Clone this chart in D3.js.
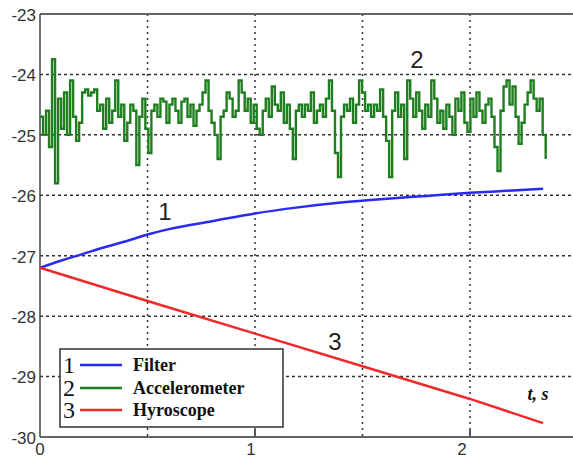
<!DOCTYPE html>
<html>
<head>
<meta charset="utf-8">
<script src="https://cdn.jsdelivr.net/npm/d3@7"></script>
<style>
  body { margin: 0; background: #fff; }
  svg { display: block; }
</style>
</head>
<body>
<div id="chart"></div>
<script>
// Chart data
const xTicks = [0, 1, 2];
const xGrid = [0.5, 1, 1.5, 2];
const yTicks = [-30, -29, -28, -27, -26, -25, -24, -23];

// 1 - Filter
const filterT = [0, 0.1, 0.2, 0.3, 0.4, 0.5, 0.6, 0.8, 1.0, 1.2, 1.4, 1.6, 1.8, 2.0, 2.2, 2.34];
const filterV = [-27.2, -27.08, -26.97, -26.86, -26.76, -26.65, -26.56, -26.43, -26.3, -26.2, -26.12, -26.06, -26.01, -25.96, -25.92, -25.89];

// 3 - Hyroscope
const gyroT = [0, 0.5, 1.0, 1.5, 2.0, 2.34];
const gyroV = [-27.2, -27.75, -28.29, -28.83, -29.37, -29.77];

// 2 - Accelerometer (sampled every accelStep seconds)
const accelStep = 0.014;
const accelV = [
  -24.7, -25.0, -24.6, -25.2, -23.75, -25.8, -24.4, -24.9, -24.3, -25.0,
  -24.1, -24.7, -25.1, -24.8, -24.3, -24.25, -24.35, -24.3, -24.25, -24.6,
  -24.5, -24.9, -24.4, -24.8, -24.6, -24.1, -24.7, -24.5, -25.1, -24.8,
  -24.5, -24.6, -25.5, -24.7, -24.4, -24.9, -25.3, -24.6, -24.5, -24.7,
  -24.4, -24.45, -24.8, -24.5, -24.4, -24.6, -24.8, -24.45, -24.4, -24.7,
  -24.5, -24.85, -24.6, -24.5, -24.3, -24.1, -24.6, -24.8, -25.0, -25.4,
  -24.7, -24.6, -24.3, -24.4, -24.7, -24.6, -24.1, -24.3, -24.6, -24.4,
  -24.8, -24.5, -24.9, -25.0, -24.6, -24.4, -24.7, -24.2, -24.5, -24.6,
  -24.3, -24.8, -24.5, -24.9, -25.4, -24.6, -24.5, -24.7, -24.5, -24.6,
  -24.3, -24.8, -24.6, -24.5, -24.7, -24.4, -24.1, -24.6, -25.3, -25.7,
  -24.7, -24.5, -24.6, -24.4, -24.8, -24.5, -24.1, -24.3, -24.6, -24.5,
  -24.7, -24.5, -24.6, -24.25, -24.7, -25.1, -25.7, -24.6, -24.3, -24.7,
  -24.5, -25.4, -24.1, -24.4, -24.7, -24.3, -24.6, -24.9, -24.5, -24.7,
  -24.1, -24.4, -24.8, -24.6, -24.9, -24.5, -24.7, -25.0, -24.4, -24.6,
  -24.3, -24.8, -24.95, -24.4, -24.7, -24.3, -24.6, -24.8, -24.5, -24.4,
  -24.7, -25.2, -25.6, -24.6, -24.2, -24.1, -24.5, -24.2, -24.7, -25.15,
  -24.8, -24.5, -24.3, -24.1, -24.4, -24.6, -24.4, -25.0, -25.4
];

const legendNames = ["Filter", "Accelerometer", "Hyroscope"];
const legendColors = ["#2a2af0", "#1f7f1f", "#f02a2a"];

const width = 573, height = 458;
const plotLeft = 40, plotTop = 14, plotBottom = 437, plotRight = 573;

const svg = d3.select("#chart").append("svg")
  .attr("width", width)
  .attr("height", height);

const x = d3.scaleLinear().domain([0, 2.48]).range([plotLeft, plotLeft + 2.48 * 215]);
const y = d3.scaleLinear().domain([-30, -23]).range([plotBottom, plotTop]);

// grid
const grid = svg.append("g")
  .attr("stroke", "#333")
  .attr("stroke-width", 1.5)
  .attr("stroke-dasharray", "3,3");

grid.selectAll(".hg")
  .data(yTicks.filter(d => d > -30 && d < -23))
  .enter().append("line")
  .attr("x1", plotLeft).attr("x2", plotRight)
  .attr("y1", d => y(d)).attr("y2", d => y(d));

grid.selectAll(".vg")
  .data(xGrid)
  .enter().append("line")
  .attr("x1", d => x(d)).attr("x2", d => x(d))
  .attr("y1", plotTop).attr("y2", plotBottom)
  .attr("stroke-dasharray", "2,4");

// frame
svg.append("line").attr("x1", plotLeft).attr("x2", plotRight).attr("y1", plotTop).attr("y2", plotTop)
  .attr("stroke", "#666").attr("stroke-width", 2);
svg.append("line").attr("x1", plotLeft).attr("x2", plotRight).attr("y1", plotBottom).attr("y2", plotBottom)
  .attr("stroke", "#666").attr("stroke-width", 2);
svg.append("line").attr("x1", plotLeft).attr("x2", plotLeft).attr("y1", plotTop).attr("y2", plotBottom)
  .attr("stroke", "#444").attr("stroke-width", 1.5);

// small inner ticks on the bottom axis
svg.selectAll(".xt")
  .data(xTicks.filter(d => d > 0))
  .enter().append("line")
  .attr("x1", d => x(d)).attr("x2", d => x(d))
  .attr("y1", plotBottom).attr("y2", plotBottom - 7)
  .attr("stroke", "#555").attr("stroke-width", 2);

// tick labels
svg.selectAll(".yl")
  .data(yTicks)
  .enter().append("text")
  .attr("x", 36)
  .attr("y", d => y(d))
  .attr("dy", "0.4em")
  .attr("text-anchor", "end")
  .attr("font-family", "Liberation Sans, Arial, sans-serif")
  .attr("font-size", 17)
  .attr("fill", "#333")
  .text(d => d);

svg.selectAll(".xl")
  .data(xTicks)
  .enter().append("text")
  .attr("x", d => x(d) - d * 4)
  .attr("y", 455)
  .attr("text-anchor", "middle")
  .attr("font-family", "Liberation Sans, Arial, sans-serif")
  .attr("font-size", 17)
  .attr("fill", "#333")
  .text(d => d);

// series
const line = d3.line().x(d => x(d[0])).y(d => y(d[1]));
const stepLine = d3.line().x(d => x(d[0])).y(d => y(d[1])).curve(d3.curveStepAfter);

const accelData = accelV.map((v, i) => [i * accelStep, v]);
const filterData = filterT.map((t, i) => [t, filterV[i]]);
const gyroData = gyroT.map((t, i) => [t, gyroV[i]]);

svg.append("path").datum(accelData)
  .attr("d", stepLine)
  .attr("fill", "none")
  .attr("stroke", legendColors[1])
  .attr("stroke-width", 2.4);

svg.append("path").datum(filterData)
  .attr("d", line.curve(d3.curveMonotoneX))
  .attr("fill", "none")
  .attr("stroke", legendColors[0])
  .attr("stroke-width", 2.5);

svg.append("path").datum(gyroData)
  .attr("d", d3.line().x(d => x(d[0])).y(d => y(d[1])))
  .attr("fill", "none")
  .attr("stroke", legendColors[2])
  .attr("stroke-width", 2.5);

// curve labels
const curveLabels = [["1", 165, 220], ["2", 417, 68], ["3", 335, 350]];
svg.selectAll(".cl")
  .data(curveLabels)
  .enter().append("text")
  .attr("x", d => d[1])
  .attr("y", d => d[2])
  .attr("text-anchor", "middle")
  .attr("font-family", "Liberation Sans, Arial, sans-serif")
  .attr("font-size", 24)
  .attr("fill", "#222")
  .text(d => d[0]);

// axis name
svg.append("text")
  .attr("x", 538)
  .attr("y", 400)
  .attr("text-anchor", "middle")
  .attr("font-family", "Liberation Serif, Times New Roman, serif")
  .attr("font-weight", "bold")
  .attr("font-style", "italic")
  .attr("font-size", 18)
  .attr("fill", "#111")
  .text("t, s");

// legend
const legend = svg.append("g");
legend.append("rect")
  .attr("x", 60).attr("y", 349)
  .attr("width", 223).attr("height", 78)
  .attr("fill", "#fff")
  .attr("stroke", "#333")
  .attr("stroke-width", 1.5);

const rowY = [365, 388, 410];
const rows = legend.selectAll(".row")
  .data(legendNames)
  .enter().append("g")
  .attr("transform", (d, i) => `translate(0, ${rowY[i]})`);

rows.append("text")
  .attr("x", 69)
  .attr("y", 8)
  .attr("text-anchor", "middle")
  .attr("font-family", "Liberation Serif, Times New Roman, serif")
  .attr("font-size", 24)
  .attr("fill", "#111")
  .text((d, i) => i + 1);

rows.append("line")
  .attr("x1", 80).attr("x2", 122)
  .attr("y1", 0).attr("y2", 0)
  .attr("stroke", (d, i) => legendColors[i])
  .attr("stroke-width", 2.5);

rows.append("text")
  .attr("x", 133)
  .attr("y", 6)
  .attr("font-family", "Liberation Serif, Times New Roman, serif")
  .attr("font-weight", "bold")
  .attr("font-size", 18)
  .attr("fill", "#111")
  .text(d => d);
</script>
</body>
</html>
